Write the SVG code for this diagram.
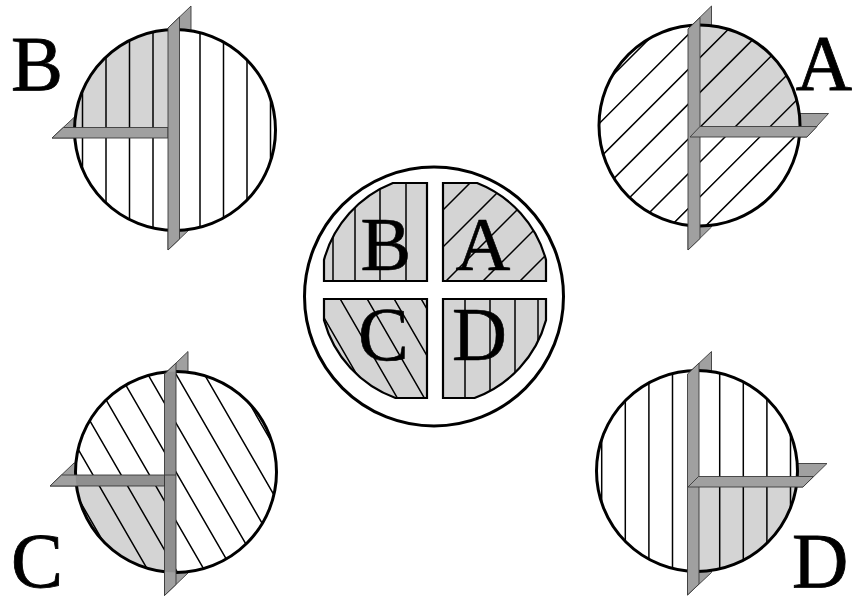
<svg xmlns="http://www.w3.org/2000/svg" width="853" height="597" viewBox="0 0 853 597">
<style>
.bg{fill:#fff}
.plate{fill:#a0a0a0;stroke:#3a3a3a;stroke-width:0.9;stroke-linejoin:miter}
.shade{fill:#d4d4d4}
.hatch{fill:none;stroke:#000;stroke-width:1.5}
.rim{fill:none;stroke:#000;stroke-width:3}
.quad{fill:#d4d4d4}
.quadrim{fill:none;stroke:#000;stroke-width:2.2}
.lbl{font-family:"Liberation Serif","Times New Roman",serif;font-size:78px;fill:#000;stroke:#000;stroke-width:0.8}
.clbl{font-family:"Liberation Serif","Times New Roman",serif;font-size:76px;fill:#000;stroke:#000;stroke-width:0.6}
</style>
<defs>
<clipPath id="clipB"><circle cx="175" cy="130" r="100.5"/></clipPath>
<clipPath id="clipA"><circle cx="699.5" cy="125.5" r="100.5"/></clipPath>
<clipPath id="clipC"><circle cx="176" cy="472" r="100.5"/></clipPath>
<clipPath id="clipD"><circle cx="697" cy="471" r="100.5"/></clipPath>
<clipPath id="qB"><path d="M427,281 V183 H392.9 A115,115 0 0 0 324,259.9 V281 Z"/></clipPath>
<clipPath id="qA"><path d="M443,281 V183 H477.1 A115,115 0 0 1 546,259.9 V281 Z"/></clipPath>
<clipPath id="qC"><path d="M427,299 V398 H395.5 A115,115 0 0 1 324,320.1 V299 Z"/></clipPath>
<clipPath id="qD"><path d="M443,299 H546 V320.1 A115,115 0 0 1 474.5,398 H443 Z"/></clipPath>
</defs>
<rect class="bg" x="0" y="0" width="853" height="597"/>

<g id="disk-B">
<polygon class="plate" points="168,28 191,6 191,228 168,250"/>
<polygon class="plate" points="52,138 75,116.5 175,116.5 175,138"/>
<circle cx="175" cy="130" r="100.5" fill="#fff"/>
<g clip-path="url(#clipB)">
<rect class="shade" x="70" y="20" width="104" height="113"/>
<path class="hatch" d="M82.5,20V240M106,20V240M129.5,20V240M153,20V240M176.5,20V240M200,20V240M223.5,20V240M247,20V240M270.5,20V240"/>
</g>
<circle class="rim" cx="175" cy="130" r="100.5"/>
<polygon class="plate" points="52,138 63.3,127.5 168,127.5 168,138"/>
<polygon class="plate" points="168,28 179.5,17 179.5,239 168,250"/>
<text class="lbl" x="11" y="90">B</text>
</g>

<g id="disk-A">
<polygon class="plate" points="688,29 711.5,6 711.5,227 688,250"/>
<polygon class="plate" points="700,137 807,137 828.5,113.5 700,113.5"/>
<circle cx="699.5" cy="125.5" r="100.5" fill="#fff"/>
<g clip-path="url(#clipA)">
<rect class="shade" x="694" y="20" width="112" height="111.5"/>
<path class="hatch" d="M708,-20L428,260M742.8,-20L462.8,260M777.6,-20L497.6,260M812.4,-20L532.4,260M847.2,-20L567.2,260M882,-20L602,260M916.8,-20L636.8,260M951.6,-20L671.6,260M986.4,-20L706.4,260"/>
</g>
<circle class="rim" cx="699.5" cy="125.5" r="100.5"/>
<polygon class="plate" points="688,29 700,17.5 700,238.5 688,250"/>
<polygon class="plate" points="690,137 700,126.5 817,126.5 807,137"/>
<text class="lbl" x="852" y="89" text-anchor="end">A</text>
</g>

<g id="disk-C">
<polygon class="plate" points="164.5,374 188,351.5 188,573 164.5,595.5"/>
<polygon class="plate" points="50,486 74,463 170,463 170,486"/>
<circle cx="176" cy="472" r="100.5" fill="#fff"/>
<g clip-path="url(#clipC)">
<rect class="shade" x="70" y="480" width="100" height="100"/>
<path class="hatch" d="M-6.3,352L132.3,592M21.95,352L160.55,592M50.2,352L188.8,592M78.45,352L217.05,592M106.7,352L245.3,592M134.95,352L273.55,592M163.2,352L301.8,592M191.45,352L330.05,592M219.7,352L358.3,592"/>
</g>
<circle class="rim" cx="176" cy="472" r="100.5"/>
<polygon class="plate" points="50,486 61.5,475 164.5,475 164.5,486"/>
<polygon class="plate" points="164.5,374 176,363 176,584.5 164.5,595.5"/>
<g clip-path="url(#clipC)" fill="#000" fill-opacity="0.1">
<polygon points="50,486 61.5,475 164.5,475 164.5,486"/>
<polygon points="164.5,374 176,363 176,584.5 164.5,595.5"/>
</g>
<path d="M164.5,475H176" stroke="#3a3a3a" stroke-width="0.9"/>
<text class="lbl" x="11" y="587">C</text>
</g>

<g id="disk-D">
<polygon class="plate" points="687.5,374 711.5,351.5 711.5,572.5 687.5,595"/>
<polygon class="plate" points="700,487 803,487 827,463.5 700,463.5"/>
<circle cx="697" cy="471" r="100.5" fill="#fff"/>
<g clip-path="url(#clipD)">
<rect class="shade" x="693" y="482" width="110" height="95"/>
<path class="hatch" d="M601.7,365V580M625.3,365V580M648.9,365V580M672.5,365V580M696.1,365V580M719.7,365V580M743.3,365V580M766.9,365V580M790.5,365V580"/>
</g>
<circle class="rim" cx="697" cy="471" r="100.5"/>
<polygon class="plate" points="687.5,374 699,363 699,584 687.5,595"/>
<polygon class="plate" points="688,487 698.5,476.5 813.5,476.5 803,487"/>
<text class="lbl" x="792" y="587">D</text>
</g>

<g id="center">
<circle cx="434" cy="296.5" r="129.5" fill="#fff" stroke="#000" stroke-width="3"/>
<g id="quad-B">
<path class="quad" d="M427,281 V183 H392.9 A115,115 0 0 0 324,259.9 V281 Z"/>
<path class="hatch" clip-path="url(#qB)" stroke-width="1.3" d="M333,180V285M355,180V285M380,180V285M406,180V285"/>
<path class="quadrim" d="M427,281 V183 H392.9 A115,115 0 0 0 324,259.9 V281 Z"/>
<text class="clbl" x="360.5" y="270">B</text>
</g>
<g id="quad-A">
<path class="quad" d="M443,281 V183 H477.1 A115,115 0 0 1 546,259.9 V281 Z"/>
<path class="hatch" clip-path="url(#qA)" stroke-width="1.3" d="M473,180L363,290M510,180L400,290M547,180L437,290M584,180L474,290M621,180L511,290"/>
<path class="quadrim" d="M443,281 V183 H477.1 A115,115 0 0 1 546,259.9 V281 Z"/>
<text class="clbl" x="455.5" y="270">A</text>
</g>
<g id="quad-C">
<path class="quad" d="M427,299 V398 H395.5 A115,115 0 0 1 324,320.1 V299 Z"/>
<path class="hatch" clip-path="url(#qC)" stroke-width="1.3" d="M308,290L373,402.6M335,290L400,402.6M362,290L427,402.6M389,290L454,402.6M416,290L481,402.6"/>
<path class="quadrim" d="M427,299 V398 H395.5 A115,115 0 0 1 324,320.1 V299 Z"/>
<text class="clbl" x="358" y="360">C</text>
</g>
<g id="quad-D">
<path class="quad" d="M443,299 H546 V320.1 A115,115 0 0 1 474.5,398 H443 Z"/>
<path class="hatch" clip-path="url(#qD)" stroke-width="1.3" d="M465,295V402M490,295V402M515,295V402M538,295V402"/>
<path class="quadrim" d="M443,299 H546 V320.1 A115,115 0 0 1 474.5,398 H443 Z"/>
<text class="clbl" x="452" y="360">D</text>
</g>
</g>
</svg>
